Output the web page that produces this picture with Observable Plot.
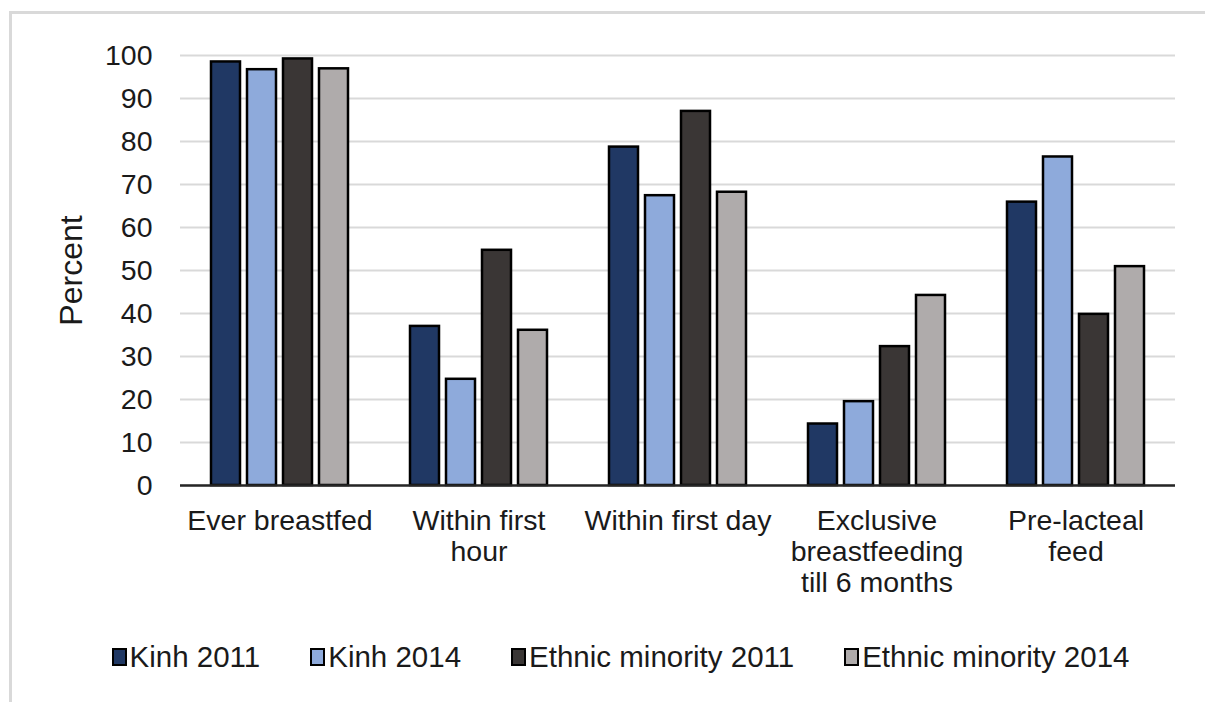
<!DOCTYPE html>
<html>
<head>
<meta charset="utf-8">
<script src="https://cdn.jsdelivr.net/npm/d3@7"></script>
<script src="https://cdn.jsdelivr.net/npm/@observablehq/plot@0.6"></script>
<style>
  html, body { margin: 0; padding: 0; background: #fff; }
  body { width: 1205px; height: 702px; position: relative; overflow: hidden;
         font-family: "Liberation Sans", Arial, sans-serif; }
  #frame { position: absolute; left: 9px; top: 11px; width: 1196px; height: 691px;
           border-top: 3px solid #d9d9d9; border-left: 3px solid #d9d9d9; box-sizing: border-box; }
  #chart { position: absolute; left: 0; top: 0; }
  #chart g[aria-label="y-axis label"] text { font-size: 32px; }
  #legend { position: absolute; left: 0; top: 640px; width: 1205px; padding-left: 36px; box-sizing: border-box;
            display: flex; justify-content: center; gap: 50px; font-size: 29.5px; color: #1a1a1a; }
  .item { display: flex; align-items: center; white-space: nowrap; }
  .sw { display: inline-block; width: 11px; height: 14px; border: 2px solid #000; margin-right: 3px; }
</style>
</head>
<body>
<div id="frame"></div>
<div id="chart"></div>
<div id="legend"></div>
<script>
const categories = ["Ever breastfed", "Within first hour", "Within first day", "Exclusive breastfeeding till 6 months", "Pre-lacteal feed"];
const categoryLabels = ["Ever breastfed", "Within first\nhour", "Within first day", "Exclusive\nbreastfeeding\ntill 6 months", "Pre-lacteal\nfeed"];
const series = ["Kinh 2011", "Kinh 2014", "Ethnic minority 2011", "Ethnic minority 2014"];
const kinh2011 = [98.5, 37.0, 78.7, 14.3, 65.9];
const kinh2014 = [96.7, 24.7, 67.4, 19.5, 76.4];
const ethnic2011 = [99.2, 54.7, 87.0, 32.3, 39.8];
const ethnic2014 = [96.9, 36.1, 68.2, 44.2, 50.9];
const colors = ["#203864", "#8eaadb", "#3a3635", "#afabab"];
const yTicks = [0, 10, 20, 30, 40, 50, 60, 70, 80, 90, 100];

const seriesValues = [kinh2011, kinh2014, ethnic2011, ethnic2014];
const data = [];
categories.forEach((c, i) => series.forEach((s, j) => data.push({category: c, series: s, value: seriesValues[j][i]})));
const labelOf = new Map(categories.map((c, i) => [c, categoryLabels[i]]));

const chart = Plot.plot({
  width: 1205,
  height: 625,
  marginLeft: 178,
  marginRight: 28,
  marginTop: 55,
  marginBottom: 140,
  style: {fontFamily: "'Liberation Sans', Arial, sans-serif", fontSize: "28.5px", color: "#1a1a1a", background: "transparent"},
  fx: {domain: categories, padding: 0, label: null},
  x: {domain: series, axis: null, paddingInner: 0.19, paddingOuter: 0.835},
  y: {domain: [0, 100]},
  color: {domain: series, range: colors},
  marks: [
    Plot.gridY(yTicks, {stroke: "#d9d9d9", strokeOpacity: 1, strokeWidth: 2}),
    Plot.axisY(yTicks, {tickSize: 0, tickPadding: 28, label: "Percent", labelArrow: "none", labelAnchor: "center", labelOffset: 121}),
    Plot.axisFx({anchor: "bottom", tickSize: 0, tickPadding: 22, tickFormat: d => labelOf.get(d), lineHeight: 1.1, label: null}),
    Plot.barY(data, {fx: "category", x: "series", y: "value", fill: "series", stroke: "#000", strokeWidth: 2.5}),
    Plot.ruleY([0], {stroke: "#262626", strokeWidth: 2.5})
  ]
});
document.getElementById("chart").appendChild(chart);

const legend = document.getElementById("legend");
series.forEach((s, i) => {
  const item = document.createElement("div");
  item.className = "item";
  const sw = document.createElement("span");
  sw.className = "sw";
  sw.style.background = colors[i];
  item.appendChild(sw);
  item.appendChild(document.createTextNode(s));
  legend.appendChild(item);
});
</script>
</body>
</html>
